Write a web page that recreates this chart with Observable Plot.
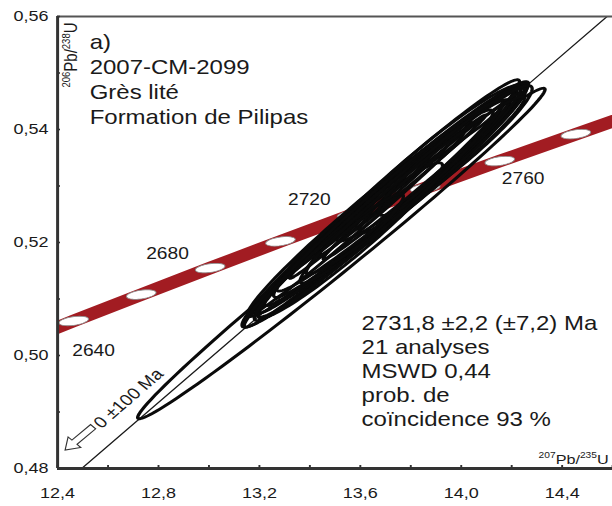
<!DOCTYPE html>
<html>
<head>
<meta charset="utf-8">
<script src="https://cdn.jsdelivr.net/npm/d3@7"></script>
<script src="https://cdn.jsdelivr.net/npm/@observablehq/plot@0.6"></script>
<style>
  body { margin: 0; background: #fff; }
  #chart { width: 612px; height: 506px; overflow: hidden; }
  #chart svg { display: block; transform: scaleX(1.2); transform-origin: 0 0; }
</style>
</head>
<body>
<div id="chart"></div>
<script>
// Concordia curve: age (Ma) with its 207Pb/235U and 206Pb/238U ratios
const concordiaAge = [2620, 2640, 2660, 2680, 2700, 2720, 2740, 2760, 2780, 2800];
const concordiaX = [12.2012, 12.4638, 12.7316, 13.0048, 13.2834, 13.5675, 13.8573, 14.1528, 14.4542, 14.7617];
const concordiaY = [0.50141, 0.50611, 0.51079, 0.51548, 0.52020, 0.52492, 0.52966, 0.53441, 0.53918, 0.54396];

// Age ticks that carry a label, and where each label sits
const labelledAge = [2640, 2680, 2720, 2760];
const labelX = [12.5426, 12.8356, 13.398, 14.2455];
const labelY = [0.50088, 0.51805, 0.52761, 0.53133];

// Zircon analyses: ratios, 2-sigma errors and error correlation
const spot = [1, 2, 3, 4, 5, 6, 7, 8, 9, 10, 11, 12, 13, 14, 15, 16, 17, 18, 19, 20, 21];
const ratio207 = [13.5248, 13.6990, 13.6792, 13.7188, 13.7257, 13.6398, 13.7584, 13.8109, 13.5897, 13.8479, 13.5604,
                  13.8695, 13.6785, 13.7627, 13.9245, 13.6139, 13.7283, 13.9762, 13.4812, 13.8178, 13.6713];
const err207 = [0.8075, 0.5680, 0.5394, 0.5323, 0.5053, 0.4865, 0.5022, 0.4495, 0.4226, 0.3952, 0.3653,
                0.3655, 0.3594, 0.3343, 0.3298, 0.3042, 0.4592, 0.3049, 0.2893, 0.4323, 0.4915];
const ratio206 = [0.51805, 0.52673, 0.52602, 0.52743, 0.52881, 0.52518, 0.52920, 0.53030, 0.52355, 0.53185, 0.52035,
                  0.53403, 0.52762, 0.53001, 0.53447, 0.52613, 0.52833, 0.53628, 0.51770, 0.53009, 0.52566];
const err206 = [0.02926, 0.02175, 0.02099, 0.02002, 0.02000, 0.01828, 0.01890, 0.01749, 0.01616, 0.01485, 0.01375,
                0.01377, 0.01399, 0.01256, 0.01284, 0.01144, 0.01695, 0.01149, 0.01089, 0.01571, 0.01948];
const rho = [0.9922, 0.9812, 0.9871, 0.9847, 0.9827, 0.9774, 0.9807, 0.9776, 0.9933, 0.9940, 0.9651,
             0.9591, 0.9948, 0.9958, 0.9711, 0.9901, 0.9810, 0.9498, 0.9617, 0.9792, 0.9788];

// Discordia anchored at 0 Ma, upper intercept on the concordia
const lowerInterceptAge = 0;
const upperInterceptAge = 2731.8;
const upperInterceptX = 13.7378;
const upperInterceptY = 0.52772;

// Axis ticks
const xTicks = [12.4, 12.6, 12.8, 13.0, 13.2, 13.4, 13.6, 13.8, 14.0, 14.2, 14.4, 14.6];
const yTicks = [0.48, 0.49, 0.50, 0.51, 0.52, 0.53, 0.54, 0.55, 0.56];

// Text blocks
const sampleLines = ["a)", "2007-CM-2099", "Grès lité", "Formation de Pilipas"];
const resultLines = ["2731,8 ±2,2 (±7,2) Ma", "21 analyses", "MSWD 0,44", "prob. de", "coïncidence 93 %"];
const originNote = {x: 12.681, y: 0.49239, text: "0 ±100 Ma"};
const originArrow = {x: 12.487, y: 0.4854};
const yTitle = "206Pb/238U";
const xTitle = "207Pb/235U";

// ---- tables built from the arrays above ----
const concordia = concordiaAge.map((age, i) => ({age, x: concordiaX[i], y: concordiaY[i]}));
const ageLabels = labelledAge.map((age, i) => ({age, x: labelX[i], y: labelY[i]}));

// Error ellipse outlines from the ratio, 2σ and correlation of each analysis
const N = 120;
const ellipsePts = [];
spot.forEach((id, i) => {
  const r = rho[i], q = Math.sqrt(1 - r * r);
  for (let k = 0; k < N; k++) {
    const t = 2 * Math.PI * k / N;
    ellipsePts.push({
      spot: id,
      x: ratio207[i] + err207[i] * Math.cos(t),
      y: ratio206[i] + err206[i] * (r * Math.cos(t) + q * Math.sin(t))
    });
  }
});

// Discordia through the lower and upper intercepts, extended past the frame
const slope = upperInterceptY / upperInterceptX;
const discordia = [
  {x: 0, y: 0},
  {x: upperInterceptX, y: upperInterceptY},
  {x: 15, y: 15 * slope}
];

// Small open ellipses marking each age step on the concordia band
const ageMarker = {
  draw(ctx) {
    const rx = 12.5, ry = 4.3, n = 40;
    for (let k = 0; k <= n; k++) {
      const t = 2 * Math.PI * k / n;
      const px = rx * Math.cos(t), py = ry * Math.sin(t);
      k ? ctx.lineTo(px, py) : ctx.moveTo(px, py);
    }
    ctx.closePath();
  }
};

// Open block arrow pointing toward the lower intercept
const blockArrow = {
  draw(ctx) {
    ctx.moveTo(-17, 0);
    ctx.lineTo(-6, -7.5);
    ctx.lineTo(-6, -3);
    ctx.lineTo(16, -3);
    ctx.lineTo(16, 3);
    ctx.lineTo(-6, 3);
    ctx.lineTo(-6, 7.5);
    ctx.closePath();
  }
};

const fmtX = d => Math.round(d * 10) % 4 === 0 ? d.toFixed(1).replace(".", ",") : "";
const fmtY = d => Math.round(d * 100) % 2 === 0 ? d.toFixed(2).replace(".", ",") : "";

const ink = "#1a1a1a";

const chart = Plot.plot({
  width: 510,
  height: 506,
  marginLeft: 47.5,
  marginRight: 0,
  marginTop: 16,
  marginBottom: 38,
  x: {domain: [12.4, 14.6], label: null},
  y: {domain: [0.48, 0.56], label: null},
  style: {
    fontFamily: "'Liberation Sans', Arial, sans-serif",
    fontSize: "15px",
    color: ink,
    background: "white",
    overflow: "visible"
  },
  marks: [
    // concordia band
    Plot.line(concordia, {x: "x", y: "y", stroke: "#a21c22", strokeWidth: 12.5, clip: true}),
    Plot.dot(concordia, {x: "x", y: "y", symbol: ageMarker, r: 5, rotate: -10,
      fill: "white", stroke: "#8c8c8c", strokeWidth: 0.8, clip: true}),
    // discordia
    Plot.line(discordia, {x: "x", y: "y", stroke: ink, strokeWidth: 1.2, clip: true}),
    // analyses
    Plot.line(ellipsePts, {x: "x", y: "y", z: "spot", curve: "linear-closed",
      stroke: "#0a0a0a", strokeWidth: 2.8, fill: "none", clip: true}),
    // lower intercept note
    Plot.dot([originArrow], {x: "x", y: "y", symbol: blockArrow, r: 5, rotate: -45,
      fill: "white", stroke: "#333", strokeWidth: 1}),
    Plot.text([originNote], {x: "x", y: "y", text: "text", rotate: -45.9, fontSize: 16, fill: ink}),
    // age labels
    Plot.text(ageLabels, {x: "x", y: "y", text: d => String(d.age), fontSize: 16, fill: ink}),
    // sample description
    Plot.text([sampleLines.join("\n")], {frameAnchor: "top-left", dx: 26.7, dy: 15,
      textAnchor: "start", lineAnchor: "top", fontSize: 20, lineHeight: 1.25, fill: ink}),
    // age result
    Plot.text([resultLines.join("\n")], {frameAnchor: "top-left", dx: 253.3, dy: 297,
      textAnchor: "start", lineAnchor: "top", fontSize: 20, lineHeight: 1.19, fill: ink}),
    // axis titles
    Plot.text([yTitle], {frameAnchor: "top-left", dx: 11.7, dy: 6, rotate: -90,
      textAnchor: "end", lineAnchor: "middle", fontSize: 15, fill: ink}),
    Plot.text([xTitle], {frameAnchor: "bottom-right", dx: -3.3, dy: -4.5,
      textAnchor: "end", lineAnchor: "bottom", fontSize: 13.5, fill: ink}),
    // frame
    Plot.ruleY([0.56], {stroke: "#555", strokeWidth: 2}),
    Plot.ruleX([12.4], {stroke: "#333", strokeWidth: 2.5}),
    Plot.ruleY([0.48], {stroke: "#333", strokeWidth: 3}),
    // ticks (inward) and tick labels
    Plot.axisX(xTicks, {anchor: "bottom", tickSize: -3, tickFormat: () => "", stroke: "#333", strokeWidth: 1.6, label: null}),
    Plot.axisX(xTicks, {anchor: "bottom", tickSize: 0, tickPadding: 18.5, tickFormat: fmtX, fontSize: 15, fill: ink, label: null}),
    Plot.axisY(yTicks, {anchor: "left", tickSize: -2.5, tickFormat: () => "", stroke: "#333", strokeWidth: 1.6, label: null}),
    Plot.axisY(yTicks, {anchor: "left", tickSize: 0, tickPadding: 7.5, tickFormat: fmtY, fontSize: 15, fill: ink, label: null})
  ]
});

// Isotope ratio titles: mass numbers as superscripts
const ratioStyle = {[yTitle]: [15, 9.5], [xTitle]: [13.5, 8.5]};
chart.querySelectorAll("text").forEach(t => {
  const s = t.textContent;
  const m = /^(\d{3})Pb\/(\d{3})U$/.exec(s);
  if (!m || !ratioStyle[s]) return;
  const [main, sup] = ratioStyle[s];
  const rise = 0.42 * main;
  const ns = "http://www.w3.org/2000/svg";
  while (t.firstChild) t.removeChild(t.firstChild);
  const parts = [[m[1], true], ["Pb/", false], [m[2], true], ["U", false]];
  let raised = false;
  parts.forEach(([str, isSup]) => {
    const ts = document.createElementNS(ns, "tspan");
    ts.textContent = str;
    ts.setAttribute("font-size", isSup ? sup : main);
    if (isSup && !raised) { ts.setAttribute("dy", -rise); raised = true; }
    else if (!isSup && raised) { ts.setAttribute("dy", rise); raised = false; }
    t.appendChild(ts);
  });
});

document.getElementById("chart").appendChild(chart);
</script>
</body>
</html>
